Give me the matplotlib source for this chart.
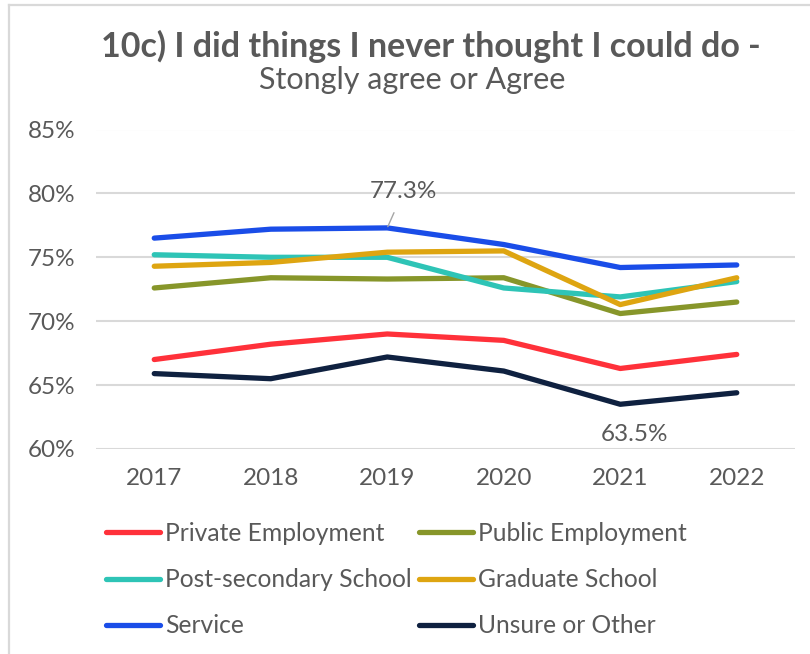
import matplotlib
matplotlib.use("Agg")
import matplotlib.pyplot as plt
from matplotlib.lines import Line2D

years = ["2017", "2018", "2019", "2020", "2021", "2022"]
private_emp = [67.0, 68.2, 69.0, 68.5, 66.3, 67.4]
public_emp = [72.6, 73.4, 73.3, 73.4, 70.6, 71.5]
post_secondary = [75.2, 75.0, 75.0, 72.6, 71.9, 73.1]
graduate = [74.3, 74.6, 75.4, 75.5, 71.3, 73.4]
service = [76.5, 77.2, 77.3, 76.0, 74.2, 74.4]
unsure = [65.9, 65.5, 67.2, 66.1, 63.5, 64.4]

series_names = ["Private Employment", "Public Employment", "Post-secondary School",
                "Graduate School", "Service", "Unsure or Other"]
series_values = [private_emp, public_emp, post_secondary, graduate, service, unsure]
colors = ["#ff313a", "#87962a", "#2ec4b6", "#dea511", "#1a4de8", "#0f2140"]

y_ticks = [60, 65, 70, 75, 80, 85]

plt.rcParams['font.family'] = ['Lato', 'DejaVu Sans']
GRAY = "#595959"

fig = plt.figure(figsize=(8.1, 6.54), dpi=100)
fig.patch.set_facecolor("white")

# border (top and left)
fig.add_artist(Line2D([9/810, 9/810], [0, 1 - 5/654], transform=fig.transFigure, color="#d9d9d9", lw=1.6))
fig.add_artist(Line2D([9/810, 1], [1 - 5/654, 1 - 5/654], transform=fig.transFigure, color="#d9d9d9", lw=1.6))

ax = fig.add_axes([96/810, 1 - 449/654, (795 - 96)/810, (449 - 129.5)/654])
x = list(range(len(years)))
lines = {}
for name, vals, c in zip(series_names, series_values, colors):
    ln, = ax.plot(x, vals, color=c, lw=3.8, solid_capstyle="round", solid_joinstyle="round", label=name, zorder=3)
    lines[name] = ln

ax.set_xlim(-0.5, len(years) - 0.5)
ax.set_ylim(60, 85)
ax.set_yticks(y_ticks)
ax.set_yticklabels([f"{t}%" for t in y_ticks])
ax.set_xticks(x)
ax.set_xticklabels(years)
ax.grid(axis="y", color="#d9d9d9", lw=1.5, zorder=0)
ax.grid(axis="x", visible=False)
for s in ax.spines.values():
    s.set_visible(False)
ax.tick_params(axis="both", length=0, labelsize=17.5, colors=GRAY)
ax.tick_params(axis="y", pad=15)
ax.tick_params(axis="x", pad=14)

# data labels
ax.annotate("77.3%", xy=(2, service[2]), xytext=(11.5, 26), textcoords="offset points",
            ha="center", va="center", fontsize=17.5, color=GRAY,
            arrowprops=dict(arrowstyle="-", color="#a6a6a6", lw=1, shrinkA=6, shrinkB=1))
ax.annotate("63.5%", xy=(4, unsure[4]), xytext=(10, -21.5), textcoords="offset points",
            ha="center", va="center", fontsize=17.5, color=GRAY)

# titles
fig.text(431/810, 1 - 46/654, "10c) I did things I never thought I could do -", ha="center", va="center",
         fontsize=24.5, fontweight="bold", color=GRAY)
fig.text(412/810, 1 - 80/654, "Stongly agree or Agree", ha="center", va="center",
         fontsize=22, color=GRAY)

order = ["Private Employment", "Post-secondary School", "Service",
         "Public Employment", "Graduate School", "Unsure or Other"]
leg = fig.legend([lines[n] for n in order], order, ncol=2, loc="upper left",
                 bbox_to_anchor=(106/810, 1 - 522/654), frameon=False, fontsize=17.7,
                 handlelength=2.2, handletextpad=0.2, columnspacing=0.3, labelspacing=0.94,
                 borderaxespad=0, borderpad=0)
for t in leg.get_texts():
    t.set_color(GRAY)

fig.savefig("out.png", dpi=100, facecolor="white")
